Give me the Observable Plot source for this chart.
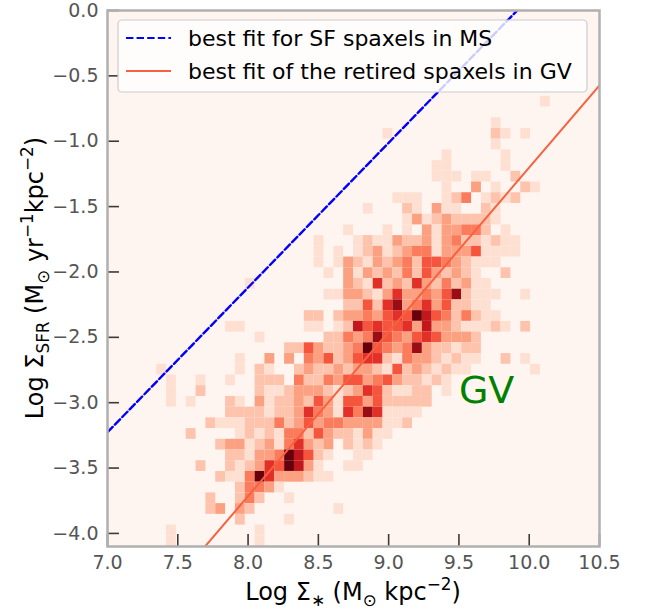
<!DOCTYPE html>
<html><head><meta charset="utf-8">
<script src="https://cdn.jsdelivr.net/npm/d3@7"></script>
<script src="https://cdn.jsdelivr.net/npm/@observablehq/plot@0.6"></script>
<style>body{margin:0;background:#fff;} svg{display:block;}</style>
</head><body><div id="chart"></div>
<script>
// 2-D histogram bins (50 x 50)
const xBinStart = 7.0, xBinWidth = 0.07;
const yBinStart = -4.1, yBinWidth = 0.082;
// rows from the top bin (y near 0) to the bottom bin (y near -4.1); one digit per x bin = count level
const countRows = [
"0000000000|0000000000|0000000000|0000000000|0000000000",
"0000000000|0000000000|0000000000|0000000000|0000000000",
"0000000000|0000000000|0000000000|0000000000|0000000000",
"0000000000|0000000000|0000000000|0000000000|0000000000",
"0000000000|0000000000|0000000000|0000000000|0000000000",
"0000000000|0000000000|0000000000|0000000000|0000000000",
"0000000000|0000000000|0000000000|0000000000|0000000000",
"0000000000|0000000000|0000000000|0000000000|0000000000",
"0000000000|0000000000|0000000000|0000000000|0000100000",
"0000000000|0000000000|0000000000|0000000000|0000000000",
"0000000000|0000000000|0000000000|0000000001|0000000000",
"0000000000|0000000000|0000000010|0000000002|1010000000",
"0000000000|0000000000|0000000000|0000000001|0000000000",
"0000000000|0000000000|0000000000|0000100000|1000000000",
"0000000000|0000000000|0000000000|0001100000|1000000000",
"0000000000|0000000000|0000000000|0001110110|0200000000",
"0000000000|0000000000|0000000000|0000100301|0021000000",
"0000000000|0000000000|0000000001|1100124012|1200000000",
"0000000000|0000000000|0000001000|2103110021|0000000000",
"0000000000|0000000000|0000000000|1312322221|0000000000",
"0000000000|0000000000|0000100010|1031334420|1000000000",
"0000000000|0000000000|0100012113|2231342212|1100000000",
"0000000000|0000000000|0101012312|3441333511|1100000000",
"0000000000|0000000000|0101321323|4255432111|0000000000",
"0000000000|0000000000|0010313232|4253232100|2000000000",
"0000000000|0000100000|0000321623|2632423110|0000000000",
"0000000000|0000000000|0011332136|3343582111|0010000000",
"0000000000|0000000000|0000225268|3463522110|0000000000",
"0000000000|0000000000|2202334356|5975424211|0000000000",
"0000000000|0011000000|1101275655|6373321112|1020000000",
"0000000000|0000010000|0022434854|3565333200|0000000000",
"0000000000|0000000022|5322349543|4832212200|0000000000",
"0000000000|0001003030|4352356621|4332121100|2010000000",
"0000010000|0001021002|3223233215|2321211000|0001000000",
"0000001001|0010022204|2243553453|2212100000|0000000000",
"0000001002|0000021123|3321236521|1220100000|0000000000",
"0000001010|0021031223|2531553522|2220000000|0000000000",
"0000000000|0022221223|6431648611|1100000000|0000000000",
"0000000000|2111222423|5344333311|2000000000|0000000000",
"0000000020|0001212144|2532213110|0000000000|0000000000",
"0000000000|0233123146|3230212100|0000000000|0000000000",
"0000000000|0022133497|5210011000|0000000000|0000000000",
"0000000002|0021236597|3100110000|0000000000|0000000000",
"0000000000|0211496333|2110000000|0000000000|0000000000",
"0000000000|0002443100|0000000000|0000000000|0000000000",
"0000000000|2002420010|0000000000|0000000000|0000000000",
"0000000000|2303200000|0001000000|0000000000|0000000000",
"0000000000|0002000010|0000000000|0000000000|0000000000",
"0000001000|0000010000|0000000000|0000000000|0000000000",
"0000001000|0000010000|0000000000|0000000000|0000000000"
];
const xTicks = [7.0, 7.5, 8.0, 8.5, 9.0, 9.5, 10.0, 10.5];
const yTicks = [-4.0, -3.5, -3.0, -2.5, -2.0, -1.5, -1.0, -0.5, 0.0];
const xDomain = [7.0, 10.5];
const yDomain = [-4.1, 0.0];
// best-fit lines: log SFR = slope * log M + intercept
const msFit = {slope: 1.107, intercept: -10.975};
const gvFit = {slope: 1.257, intercept: -13.771};
const legendLabels = ["best fit for SF spaxels in MS", "best fit of the retired spaxels in GV"];
const regionLabels = [{x: 9.5, y: -3.0, text: "GV"}];

// build table
const cells = [];
const nRows = countRows.length;
countRows.forEach((row, r) => {
  const s = row.replace(/\|/g, "");
  const j = nRows - 1 - r;
  for (let i = 0; i < s.length; i++) {
    const c = +s[i];
    if (c > 0) cells.push({
      x1: xBinStart + i * xBinWidth, x2: xBinStart + (i + 1) * xBinWidth,
      y1: yBinStart + j * yBinWidth, y2: yBinStart + (j + 1) * yBinWidth, count: c
    });
  }
});
const fitLine = f => xDomain.map(x => ({x, y: f.slope * x + f.intercept}));

const W = 646, H = 611, mL = 107, mR = 47, mT = 10, mB = 65;
const iw = W - mL - mR, ih = H - mT - mB;
const blue = "#0000ff", red = "#f8613f";

const plot = Plot.plot({
  width: W, height: H,
  marginLeft: mL, marginRight: mR, marginTop: mT, marginBottom: mB,
  style: {fontFamily: "DejaVu Sans", fontSize: "19px", color: "#555", background: "white"},
  x: {domain: xDomain, ticks: xTicks, tickSize: 0, tickPadding: 9, tickFormat: d3.format(".1f"), label: null},
  y: {domain: yDomain, ticks: yTicks, tickSize: 0, tickPadding: 9, tickFormat: d3.format(".1f"), label: null},
  color: {type: "linear", domain: [0, 9], scheme: "reds"},
  marks: [
    Plot.frame({fill: d3.interpolateReds(0)}),
    Plot.rect(cells, {x1: "x1", x2: "x2", y1: "y1", y2: "y2", fill: "count"}),
    Plot.line(fitLine(msFit), {x: "x", y: "y", stroke: blue, strokeWidth: 2.4, strokeDasharray: "7.4,3.2", clip: true}),
    Plot.line(fitLine(gvFit), {x: "x", y: "y", stroke: red, strokeWidth: 2, clip: true}),
    Plot.text(regionLabels, {x: "x", y: "y", text: "text", textAnchor: "start", lineAnchor: "bottom", fontSize: 38, fill: "#008000"}),
    Plot.tickX(xTicks, {x: d => d, stroke: "#3a3a3a", strokeWidth: 1.6, insetTop: ih - 12}),
    Plot.tickY(yTicks, {y: d => d, stroke: "#3a3a3a", strokeWidth: 1.6, insetRight: iw - 12}),
    Plot.frame({stroke: "#b0b0b0", strokeWidth: 2.5})
  ]
});
document.getElementById("chart").appendChild(plot);

const svg = d3.select(plot);
function addMath(textSel, parts, size) {
  let off = 0;
  for (const [t, k] of parts) {
    const target = k === "sub" ? 0.24 * size : k === "sup" ? -0.4 * size : 0;
    textSel.append("tspan").attr("dy", target - off)
      .attr("font-size", k === "n" ? size : 0.7 * size).text(t);
    off = target;
  }
}
const xl = svg.append("text").attr("x", mL + iw / 2).attr("y", 600)
  .attr("text-anchor", "middle").attr("fill", "black").attr("font-size", 24);
addMath(xl, [["Log Σ", "n"], ["∗", "sub"], [" (M", "n"], ["⊙", "sub"], [" kpc", "n"], ["−2", "sup"], [")", "n"]], 24);
const yl = svg.append("text").attr("transform", `translate(43,${mT + ih / 2}) rotate(-90)`)
  .attr("text-anchor", "middle").attr("fill", "black").attr("font-size", 24);
addMath(yl, [["Log Σ", "n"], ["SFR", "sub"], [" (M", "n"], ["⊙", "sub"], [" yr", "n"], ["−1", "sup"], ["kpc", "n"], ["−2", "sup"], [")", "n"]], 24);

// legend
const lg = svg.append("g");
lg.append("rect").attr("x", 118).attr("y", 20).attr("width", 469).attr("height", 72).attr("rx", 4)
  .attr("fill", "white").attr("fill-opacity", 0.8).attr("stroke", "#cccccc").attr("stroke-width", 1.2);
const entries = [{label: legendLabels[0], stroke: blue, dash: "7.4,3.2"}, {label: legendLabels[1], stroke: red, dash: null}];
entries.forEach((e, k) => {
  const cy = 38 + k * 33;
  lg.append("line").attr("x1", 126).attr("x2", 171).attr("y1", cy).attr("y2", cy)
    .attr("stroke", e.stroke).attr("stroke-width", 2).attr("stroke-dasharray", e.dash);
  lg.append("text").attr("x", 188).attr("y", cy + 8).attr("text-anchor", "start")
    .attr("font-size", 22).attr("fill", "black").text(e.label);
});
</script></body></html>
